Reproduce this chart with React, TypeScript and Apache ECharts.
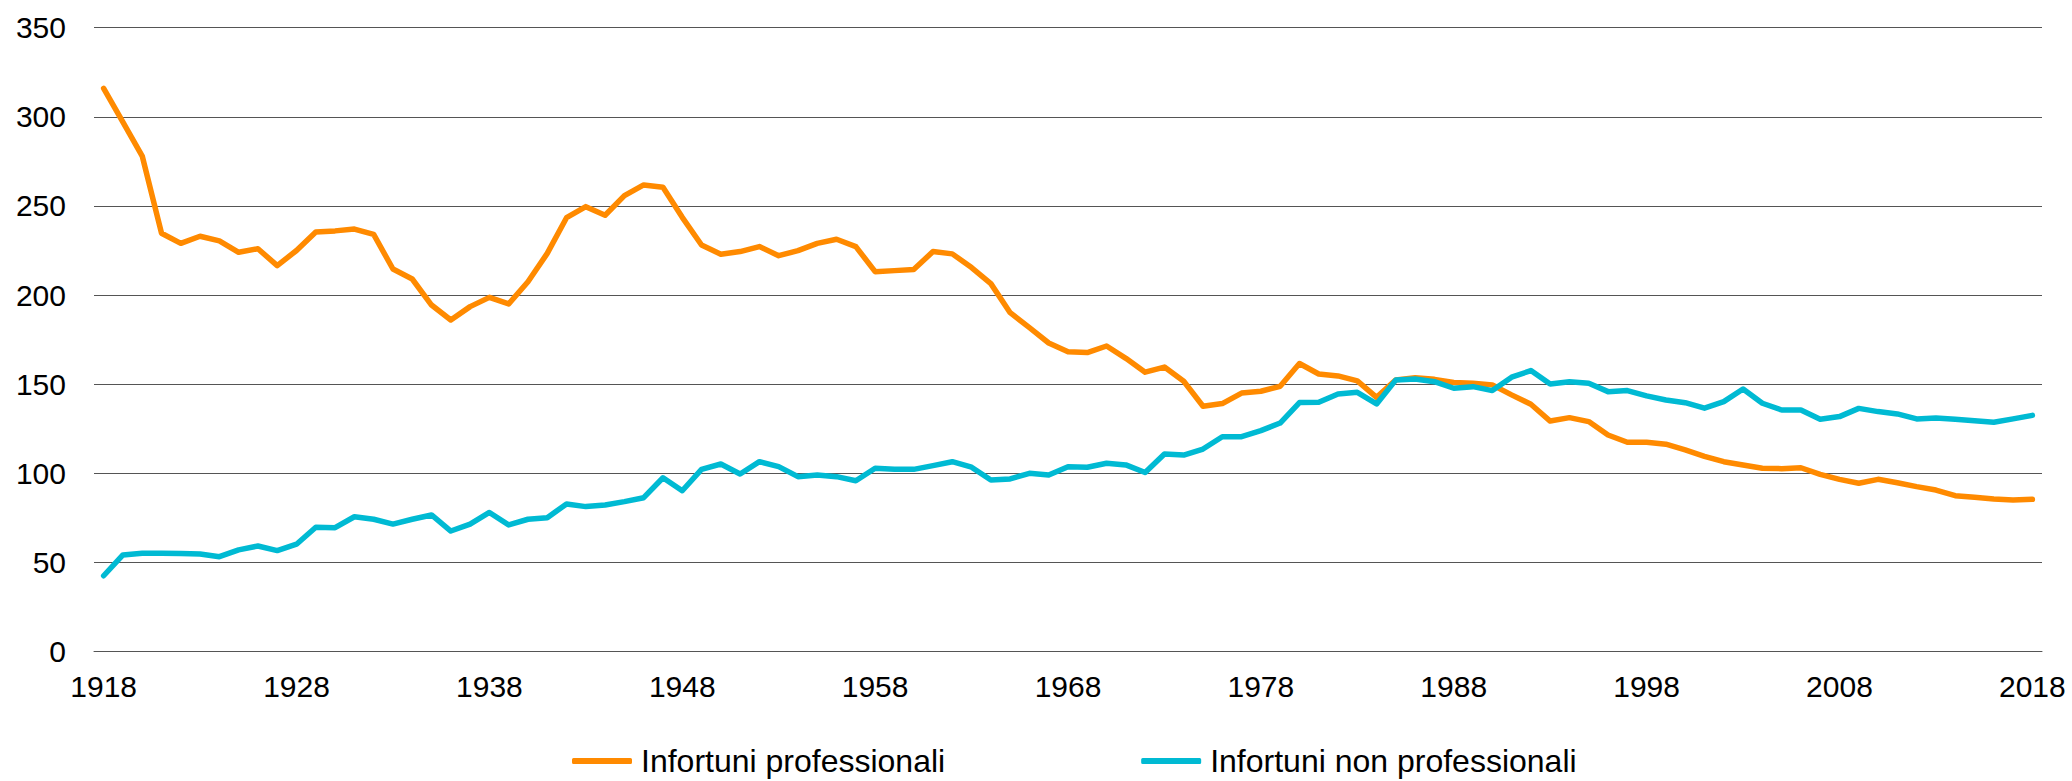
import React, { useEffect, useRef } from "react";
import * as echarts from "echarts";

const years: string[] = [
  "1918","1919","1920","1921","1922","1923","1924","1925","1926","1927",
  "1928","1929","1930","1931","1932","1933","1934","1935","1936","1937",
  "1938","1939","1940","1941","1942","1943","1944","1945","1946","1947",
  "1948","1949","1950","1951","1952","1953","1954","1955","1956","1957",
  "1958","1959","1960","1961","1962","1963","1964","1965","1966","1967",
  "1968","1969","1970","1971","1972","1973","1974","1975","1976","1977",
  "1978","1979","1980","1981","1982","1983","1984","1985","1986","1987",
  "1988","1989","1990","1991","1992","1993","1994","1995","1996","1997",
  "1998","1999","2000","2001","2002","2003","2004","2005","2006","2007",
  "2008","2009","2010","2011","2012","2013","2014","2015","2016","2017",
  "2018",
];

const professionali: number[] = [
  316, 297, 278, 234.7, 229, 233, 230.4, 224, 226, 216.5,
  225, 235.4, 236, 237, 234, 214.6, 209, 194.4, 186, 193.5,
  198.7, 195, 207.5, 223.4, 243.4, 249.6, 244.8, 255.8, 261.8, 260.5,
  243.6, 228.1, 222.9, 224.4, 227.2, 222.1, 224.9, 229, 231.3, 227.2,
  213.1, 213.7, 214.3, 224.4, 223.1, 215.4, 206.4, 190.1, 181.7, 173.1,
  168.2, 167.7, 171.4, 164.5, 156.7, 159.6, 151.6, 137.6, 139.1, 145,
  146, 148.8, 161.6, 155.7, 154.6, 151.8, 142.6, 152.4, 153.6, 152.7,
  150.9, 150.5, 149.6, 144, 138.7, 129.3, 131.2, 129, 121.5, 117.4,
  117.4, 116.3, 113.1, 109.5, 106.5, 104.6, 102.8, 102.6, 103.1, 99.4,
  96.6, 94.4, 96.6, 94.7, 92.5, 90.6, 87.4, 86.5, 85.6, 85,
  85.4,
];

const nonProfessionali: number[] = [
  42.5, 54.2, 55.1, 55.1, 55, 54.7, 53.2, 57, 59.2, 56.6,
  60.2, 69.7, 69.5, 75.6, 74.2, 71.5, 74.2, 76.6, 67.6, 71.5,
  78, 71, 74.2, 75.1, 82.8, 81.3, 82.2, 84.1, 86.3, 97.5,
  90.2, 102.2, 105.2, 99.6, 106.5, 103.7, 98.1, 99, 98.1, 95.8,
  102.8, 102.2, 102.2, 104.3, 106.5, 103.4, 96.2, 96.8, 100, 99,
  103.7, 103.4, 105.6, 104.7, 100.4, 110.8, 110.2, 113.6, 120.5, 120.5,
  123.9, 128.2, 139.7, 139.8, 144.5, 145.4, 138.9, 152.4, 152.9, 151.4,
  147.7, 148.6, 146.4, 153.9, 157.6, 150.1, 151.4, 150.5, 145.8, 146.4,
  143.4, 141.1, 139.6, 136.5, 140.2, 147.3, 139.3, 135.5, 135.5, 130.3,
  131.8, 136.4, 134.6, 133.3, 130.5, 131, 130.3, 129.5, 128.6, 130.5,
  132.5,
];

const seriesNames: string[] = ["Infortuni professionali", "Infortuni non professionali"];
const yTicks = { min: 0, max: 350, interval: 50 };

const ORANGE = "#FF8A00";
const CYAN = "#00BAD3";
const GRID = "#555555";
const FONT = "'Liberation Sans', Arial, sans-serif";

export default function App() {
  const ref = useRef<HTMLDivElement>(null);

  useEffect(() => {
    document.body.style.margin = "0";
    if (!ref.current) return;
    const chart = echarts.init(ref.current, undefined, { renderer: "svg" });
    chart.setOption({
      animation: false,
      backgroundColor: "#ffffff",
      textStyle: { fontFamily: FONT },
      grid: { left: 94, right: 30, top: 27.7, bottom: 129.5, containLabel: false },
      legend: {
        left: 572,
        top: 745,
        padding: 0,
        itemWidth: 60,
        itemHeight: 6,
        itemGap: 196,
        icon: "roundRect",
        textStyle: {
          fontSize: 32,
          lineHeight: 32,
          color: "#000",
          fontFamily: FONT,
          padding: [0, 0, 0, 4],
        },
        data: seriesNames,
      },
      xAxis: {
        type: "category",
        data: years,
        boundaryGap: true,
        axisLine: { show: true, lineStyle: { color: GRID, width: 1 } },
        axisTick: { show: false },
        axisLabel: {
          interval: 9,
          fontSize: 30,
          color: "#000",
          margin: 20,
          fontFamily: FONT,
        },
        splitLine: { show: false },
      },
      yAxis: {
        type: "value",
        min: yTicks.min,
        max: yTicks.max,
        interval: yTicks.interval,
        axisLine: { show: false },
        axisTick: { show: false },
        axisLabel: { fontSize: 30, color: "#000", margin: 28, fontFamily: FONT },
        splitLine: { show: true, lineStyle: { color: GRID, width: 1 } },
      },
      series: [
        {
          name: seriesNames[0],
          type: "line",
          data: professionali,
          showSymbol: false,
          symbol: "none",
          lineStyle: { color: ORANGE, width: 5.5, join: "round", cap: "round" },
          itemStyle: { color: ORANGE },
        },
        {
          name: seriesNames[1],
          type: "line",
          data: nonProfessionali,
          showSymbol: false,
          symbol: "none",
          lineStyle: { color: CYAN, width: 5.5, join: "round", cap: "round" },
          itemStyle: { color: CYAN },
        },
      ],
    });
    return () => chart.dispose();
  }, []);

  return <div ref={ref} style={{ width: 2072, height: 781 }} />;
}
